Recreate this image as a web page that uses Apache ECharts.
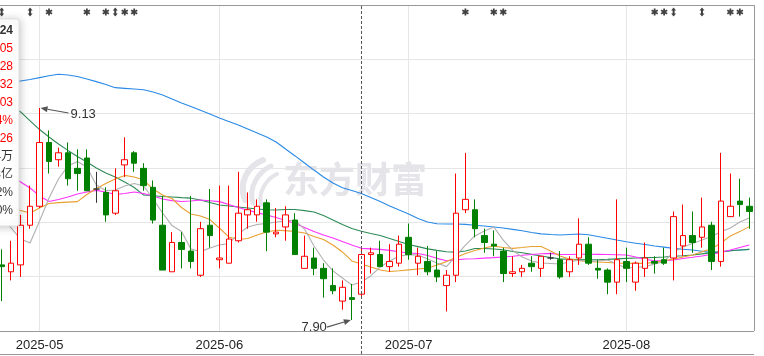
<!DOCTYPE html>
<html><head><meta charset="utf-8">
<script src="https://cdn.jsdelivr.net/npm/echarts@6/dist/echarts.min.js"></script>
<style>html,body{margin:0;padding:0;background:#fff}#c{width:764px;height:356px}</style>
</head><body><div id="c"></div>
<script>
const dates = ['2025-04-25','2025-04-28','2025-04-29','2025-04-30',
'2025-05-06','2025-05-07','2025-05-08','2025-05-09','2025-05-12','2025-05-13','2025-05-14','2025-05-15','2025-05-16','2025-05-19','2025-05-20','2025-05-21','2025-05-22','2025-05-23','2025-05-26','2025-05-27','2025-05-28','2025-05-29','2025-05-30',
'2025-06-03','2025-06-04','2025-06-05','2025-06-06','2025-06-09','2025-06-10','2025-06-11','2025-06-12','2025-06-13','2025-06-16','2025-06-17','2025-06-18','2025-06-19','2025-06-20','2025-06-23','2025-06-24','2025-06-25','2025-06-26','2025-06-27','2025-06-30',
'2025-07-01','2025-07-02','2025-07-03','2025-07-04','2025-07-07','2025-07-08','2025-07-09','2025-07-10','2025-07-11','2025-07-14','2025-07-15','2025-07-16','2025-07-17','2025-07-18','2025-07-21','2025-07-22','2025-07-23','2025-07-24','2025-07-25','2025-07-28','2025-07-29','2025-07-30','2025-07-31',
'2025-08-01','2025-08-04','2025-08-05','2025-08-06','2025-08-07','2025-08-08','2025-08-11','2025-08-12','2025-08-13','2025-08-14','2025-08-15','2025-08-18','2025-08-19','2025-08-20'];
const opens  = [8.22,8.18,8.22,8.45,8.56,8.93,8.83,8.87,8.78,8.84,8.66,8.64,8.52,8.80,8.87,8.78,8.67,8.45,8.18,8.35,8.30,8.16,8.45,8.25,8.23,8.36,8.51,8.51,8.58,8.40,8.44,8.48,8.20,8.26,8.20,8.10,8.01,8.03,8.05,8.28,8.28,8.21,8.23,8.38,8.23,8.24,8.19,8.10,8.16,8.54,8.54,8.39,8.34,8.30,8.17,8.18,8.23,8.20,8.26,8.25,8.18,8.26,8.34,8.20,8.19,8.12,8.24,8.12,8.20,8.24,8.25,8.26,8.33,8.39,8.38,8.45,8.24,8.50,8.59,8.56];
const closes = [8.21,8.23,8.45,8.56,8.93,8.82,8.87,8.72,8.75,8.65,8.66,8.51,8.65,8.83,8.81,8.68,8.48,8.19,8.35,8.31,8.24,8.43,8.39,8.26,8.37,8.52,8.54,8.56,8.41,8.41,8.51,8.28,8.27,8.20,8.14,8.07,8.09,8.02,8.28,8.29,8.21,8.24,8.34,8.28,8.27,8.18,8.15,8.16,8.52,8.60,8.43,8.35,8.33,8.17,8.18,8.20,8.21,8.27,8.26,8.15,8.25,8.34,8.23,8.19,8.12,8.25,8.20,8.23,8.26,8.23,8.23,8.50,8.39,8.35,8.44,8.24,8.59,8.56,8.57,8.53];
const lows   = [8.01,8.13,8.15,8.43,8.55,8.75,8.79,8.68,8.65,8.65,8.58,8.47,8.51,8.73,8.76,8.65,8.46,8.19,8.18,8.20,8.20,8.15,8.32,8.20,8.23,8.35,8.43,8.47,8.30,8.38,8.36,8.28,8.20,8.16,8.03,8.05,7.96,7.90,8.03,8.17,8.21,8.18,8.21,8.25,8.16,8.16,8.12,7.95,8.12,8.52,8.38,8.29,8.27,8.12,8.15,8.15,8.18,8.15,8.25,8.14,8.15,8.22,8.22,8.14,8.05,8.05,8.12,8.07,8.15,8.17,8.22,8.13,8.27,8.29,8.32,8.19,8.21,8.50,8.50,8.43];
const highs  = [8.31,8.36,8.51,8.68,9.13,9.00,8.90,8.93,8.89,8.89,8.76,8.67,8.78,8.96,8.88,8.81,8.71,8.62,8.41,8.41,8.62,8.47,8.66,8.68,8.68,8.76,8.64,8.60,8.60,8.55,8.56,8.52,8.39,8.32,8.23,8.20,8.13,8.11,8.32,8.32,8.36,8.34,8.39,8.46,8.32,8.33,8.30,8.19,8.75,8.87,8.60,8.43,8.42,8.32,8.27,8.22,8.27,8.27,8.29,8.30,8.27,8.49,8.38,8.25,8.20,8.60,8.32,8.24,8.35,8.27,8.32,8.53,8.57,8.53,8.61,8.47,8.87,8.75,8.72,8.61];
const ma5  = [8.509,8.434,8.370,8.347,8.475,8.608,8.718,8.794,8.820,8.788,8.683,8.651,8.654,8.678,8.692,8.678,8.602,8.521,8.448,8.414,8.312,8.297,8.318,8.335,8.344,8.399,8.440,8.454,8.461,8.469,8.475,8.480,8.428,8.330,8.248,8.185,8.144,8.103,8.121,8.156,8.208,8.243,8.272,8.278,8.278,8.254,8.231,8.210,8.272,8.335,8.388,8.417,8.440,8.364,8.304,8.266,8.243,8.231,8.228,8.225,8.237,8.248,8.240,8.243,8.248,8.225,8.202,8.205,8.210,8.225,8.240,8.295,8.324,8.344,8.364,8.385,8.412,8.434,8.469,8.492];
const ma10 = [8.567,8.550,8.535,8.521,8.550,8.576,8.581,8.584,8.587,8.628,8.663,8.692,8.718,8.739,8.730,8.712,8.660,8.625,8.605,8.553,8.515,8.504,8.483,8.434,8.382,8.367,8.373,8.393,8.411,8.421,8.419,8.414,8.405,8.385,8.367,8.335,8.295,8.243,8.225,8.208,8.190,8.182,8.186,8.191,8.196,8.201,8.219,8.239,8.263,8.286,8.304,8.318,8.330,8.321,8.316,8.321,8.327,8.327,8.301,8.272,8.254,8.245,8.240,8.237,8.234,8.231,8.229,8.229,8.229,8.235,8.244,8.254,8.266,8.277,8.296,8.313,8.347,8.388,8.413,8.442];
const ma20 = [8.759,8.736,8.701,8.666,8.620,8.588,8.599,8.614,8.631,8.643,8.652,8.643,8.628,8.634,8.643,8.634,8.620,8.602,8.593,8.588,8.591,8.596,8.592,8.587,8.570,8.553,8.537,8.523,8.509,8.495,8.478,8.460,8.437,8.414,8.393,8.376,8.356,8.335,8.316,8.313,8.310,8.304,8.296,8.289,8.286,8.274,8.258,8.244,8.249,8.254,8.256,8.259,8.262,8.266,8.270,8.276,8.280,8.285,8.287,8.280,8.280,8.282,8.282,8.281,8.280,8.279,8.277,8.266,8.252,8.244,8.244,8.248,8.257,8.264,8.272,8.282,8.292,8.306,8.321,8.335];
const ma30 = [9.176,9.147,9.107,9.055,9.005,8.962,8.921,8.884,8.849,8.817,8.782,8.753,8.730,8.701,8.669,8.625,8.621,8.617,8.614,8.610,8.607,8.596,8.582,8.567,8.562,8.556,8.550,8.544,8.540,8.538,8.541,8.541,8.535,8.527,8.506,8.480,8.454,8.431,8.415,8.402,8.390,8.373,8.356,8.338,8.326,8.313,8.304,8.296,8.294,8.301,8.315,8.315,8.312,8.308,8.298,8.290,8.281,8.272,8.263,8.255,8.253,8.251,8.249,8.250,8.252,8.255,8.258,8.260,8.262,8.263,8.266,8.270,8.273,8.277,8.284,8.291,8.297,8.302,8.306,8.310];
const ma60 = [9.269,9.278,9.287,9.295,9.306,9.317,9.326,9.321,9.313,9.298,9.283,9.266,9.248,9.244,9.240,9.236,9.223,9.205,9.182,9.159,9.139,9.117,9.095,9.072,9.052,9.031,9.008,8.985,8.962,8.933,8.892,8.852,8.811,8.770,8.730,8.695,8.668,8.652,8.634,8.611,8.587,8.562,8.538,8.515,8.489,8.469,8.459,8.457,8.457,8.455,8.450,8.446,8.440,8.434,8.426,8.418,8.408,8.400,8.396,8.393,8.396,8.399,8.395,8.385,8.375,8.364,8.354,8.346,8.338,8.330,8.323,8.316,8.311,8.306,8.299,8.291,8.295,8.302,8.306,8.310];
const starIdx  = [5,9,11,13,14,49,52,53,69,70,77,78];
const arrowIdx = [0,3,12,71,74];
const highNote = {idx:4, value:9.13, text:'9.13'};
const lowNote  = {idx:37, value:7.90, text:'7.90'};
const cursorIdx = 38;
const tipTexts  = ['2025-06-24','8.05','8.28','8.32','8.03','3.24%','0.26','35.64万','2.93亿','3.62%','1.10%'];
const tipColors = ['#333','#f00','#f00','#f00','#f00','#f00','#f00','#333','#333','#333','#333'];

const RED='#ff0000', GREEN='#008000';
const chart = echarts.init(document.getElementById('c'), null, {renderer:'canvas'});
const isMonthStart = i => i>0 && dates[i].slice(0,7)!==dates[i-1].slice(0,7);
const starPath = 'path://M-1,-4L1,-4L1,4L-1,4Z M2.964,-2.866L3.964,-1.134L-2.964,2.866L-3.964,1.134Z M-3.964,-1.134L-2.964,-2.866L3.964,1.134L2.964,2.866Z';
const arrowPath = 'path://M5,0L10,4L7,4L7,8L10,8L5,12L0,8L3,8L3,4L0,4Z';
const FONT = "'Liberation Sans', 'Noto Sans CJK SC', sans-serif";

const option = {
  animation:false,
  backgroundColor:'#fff',
  grid:[
    {left:1.7,right:14.7,top:5,bottom:25,show:false},
    {left:0,right:10,top:5,bottom:25,show:false}
  ],
  xAxis:[
    {type:'category',gridIndex:0,data:dates,boundaryGap:false,
      axisLine:{show:false},axisTick:{show:false},
      axisLabel:{interval:(i)=>isMonthStart(i),formatter:v=>v.slice(0,7),color:'#222',fontSize:13,fontFamily:FONT,margin:8},
      splitLine:{show:true,interval:(i)=>isMonthStart(i),lineStyle:{color:'#e6e6e6',width:1}}},
    {type:'value',gridIndex:1,min:0,max:1,axisLine:{show:false},axisTick:{show:false},axisLabel:{show:false},splitLine:{show:false}}
  ],
  yAxis:[
    {type:'value',gridIndex:0,min:7.8366,max:9.7274,scale:true,show:false,splitLine:{show:false}},
    {type:'value',gridIndex:0,min:0,max:6,show:false},
    {type:'value',gridIndex:1,min:0,max:6,interval:1,axisLabel:{show:false},axisLine:{show:false},axisTick:{show:false},splitLine:{show:true,lineStyle:{color:'#e6e6e6'}}}
  ],
  series:[
    {type:'line',name:'MA60',data:ma60,showSymbol:false,lineStyle:{color:'#2a8ae6',width:1.1},z:3},
    {type:'line',name:'MA30',data:ma30,showSymbol:false,lineStyle:{color:'#2e8b57',width:1.1},z:3},
    {type:'line',name:'MA20',data:ma20,showSymbol:false,lineStyle:{color:'#ff33ff',width:1.1},z:3},
    {type:'line',name:'MA10',data:ma10,showSymbol:false,lineStyle:{color:'#e8a030',width:1.1},z:3},
    {type:'line',name:'MA5',data:ma5,showSymbol:false,lineStyle:{color:'#b0b0b0',width:1.1},z:3},
    {type:'candlestick',name:'K',barWidth:6,z:4,
      data:dates.map((d,i)=>[opens[i],closes[i],lows[i],highs[i]]),
      itemStyle:{color:'#fff',color0:GREEN,borderColor:RED,borderColor0:GREEN,borderColorDoji:'#333',borderWidth:1}},
    {type:'scatter',yAxisIndex:1,symbol:starPath,symbolSize:[7,7],itemStyle:{color:'#111'},silent:true,
      data:starIdx.map(i=>[i,5.87])},
    {type:'scatter',yAxisIndex:1,symbol:arrowPath,symbolSize:[5,9],itemStyle:{color:'#111'},silent:true,
      data:arrowIdx.map(i=>[i,5.87])}
  ]
};
chart.setOption(option);

const P = (i,v)=>chart.convertToPixel({xAxisIndex:0,yAxisIndex:0},[i,v]);
const hp = P(highNote.idx, highNote.value);
const lp = P(lowNote.idx, lowNote.value);
const cx = Math.round(P(cursorIdx, 8)[0])+0.5;
function arrow(from, to){
  const dx=to[0]-from[0], dy=to[1]-from[1], L=Math.hypot(dx,dy), ux=dx/L, uy=dy/L;
  const b=[to[0]-ux*7,to[1]-uy*7];
  return [
    {type:'line',shape:{x1:from[0],y1:from[1],x2:b[0],y2:b[1]},style:{stroke:'#555',lineWidth:1.2},z:50},
    {type:'polygon',shape:{points:[[to[0],to[1]],[b[0]-uy*3,b[1]+ux*3],[b[0]+uy*3,b[1]-ux*3]]},style:{fill:'#555'},z:50}
  ];
}
const tipEls = [{type:'rect',shape:{x:-80,y:19,width:99,height:207,r:2},style:{fill:'#fff',stroke:'#e0e0e0',lineWidth:1,shadowBlur:8,shadowColor:'rgba(0,0,0,0.22)',shadowOffsetX:1,shadowOffsetY:1},z:60}];
tipTexts.forEach((t,k)=>{
  tipEls.push({type:'text',x:13,y:31+k*18,style:{text:t,fill:tipColors[k],font:(k===0?'bold ':'')+'12px '+FONT,align:'right',verticalAlign:'middle'},z:61});
});
const wm = '#e4e4e9';
chart.setOption({graphic:[
  {type:'text',x:283,y:161,style:{text:'东方财富',fill:wm,font:'bold 36px "Noto Sans CJK SC"'},z:0,silent:true},
  {type:'bezierCurve',shape:{x1:245,y1:200,cpx1:238,cpy1:182,cpx2:248,cpy2:166,x2:263,y2:160},style:{stroke:wm,lineWidth:6,fill:null,lineCap:'round'},z:0,silent:true},
  {type:'bezierCurve',shape:{x1:253,y1:203,cpx1:248,cpy1:188,cpx2:258,cpy2:172,x2:271,y2:166},style:{stroke:wm,lineWidth:5,fill:null,lineCap:'round'},z:0,silent:true},
  {type:'bezierCurve',shape:{x1:261,y1:205,cpx1:258,cpy1:192,cpx2:266,cpy2:179,x2:277,y2:174},style:{stroke:wm,lineWidth:4,fill:null,lineCap:'round'},z:0,silent:true},
  {type:'line',shape:{x1:0,y1:5.5,x2:754,y2:5.5},style:{stroke:'#999',lineWidth:1},z:40},
  {type:'line',shape:{x1:754.5,y1:5,x2:754.5,y2:331},style:{stroke:'#999',lineWidth:1},z:40},
  {type:'line',shape:{x1:0,y1:331.5,x2:754,y2:331.5},style:{stroke:'#999',lineWidth:1},z:40},
  {type:'line',shape:{x1:0,y1:354.5,x2:754,y2:354.5},style:{stroke:'#999',lineWidth:1},z:40},
  {type:'line',shape:{x1:cx,y1:6,x2:cx,y2:356},style:{stroke:'#555',lineWidth:1,lineDash:[3,2]},z:40},
  ...arrow([hp[0]+29,hp[1]+5],[hp[0]+1,hp[1]]),
  {type:'text',x:hp[0]+31,y:hp[1]+6,style:{text:highNote.text,fill:'#333',font:'13px '+FONT,verticalAlign:'middle'},z:50},
  ...arrow([lp[0]-25,lp[1]+7],[lp[0]-1,lp[1]]),
  {type:'text',x:lp[0]-25,y:lp[1]+7,style:{text:lowNote.text,fill:'#333',font:'13px '+FONT,align:'right',verticalAlign:'middle'},z:50},
  ...tipEls
]});
</script></body></html>
